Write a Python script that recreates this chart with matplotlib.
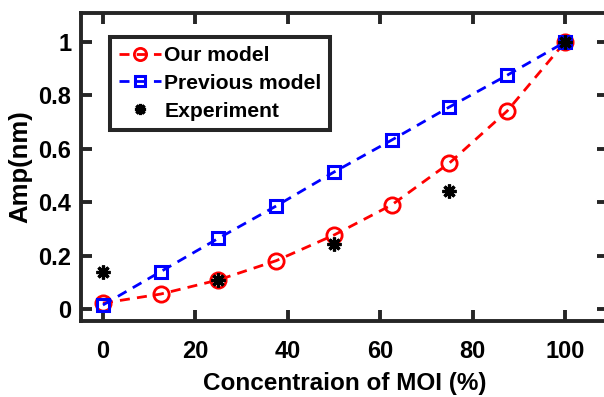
import matplotlib.pyplot as plt

plt.rcParams['font.family'] = ['Liberation Sans', 'DejaVu Sans']
plt.rcParams['font.weight'] = 'bold'

conc = [0, 12.5, 25, 37.5, 50, 62.5, 75, 87.5, 100]
our_model = [0.022, 0.056, 0.109, 0.181, 0.277, 0.39, 0.547, 0.742, 1.0]
prev_model = [0.015, 0.14, 0.265, 0.386, 0.513, 0.633, 0.757, 0.876, 1.0]
exp_conc = [0, 25, 50, 75, 100]
exp_amp = [0.14, 0.109, 0.242, 0.442, 1.0]

fig = plt.figure(figsize=(6.04, 3.97), dpi=100)
ax = fig.add_axes([0.134, 0.1914, 0.8725, 0.7758])

dash = (0, (3.6, 2.6))
ax.plot(conc, our_model, color='red', ls=dash, lw=2, marker='o', ms=11,
        mfc='none', mec='red', mew=2, label='Our model')
ax.plot(conc, prev_model, color='blue', ls=dash, lw=2, marker='s', ms=9,
        mfc='none', mec='blue', mew=2.2, label='Previous model')
ax.plot(exp_conc, exp_amp, ls='none', marker=(8, 2, 0), ms=10, color='black',
        mew=2.3, label='Experiment')

ax.set_xlim(-4.76, 109.3)
ax.set_ylim(-0.045, 1.109)
ax.set_xticks([0, 20, 40, 60, 80, 100])
ax.set_yticks([0, 0.2, 0.4, 0.6, 0.8, 1])
ax.set_yticklabels(['0', '0.2', '0.4', '0.6', '0.8', '1'])

for s in ax.spines.values():
    s.set_linewidth(2.8)
    s.set_color('#262626')
ax.tick_params(direction='in', length=8, width=2.8, top=True, right=True,
               labelsize=17, color='#262626')
ax.tick_params(axis='x', pad=14)
ax.tick_params(axis='y', pad=7)

ax.set_xlabel('Concentraion of MOI (%)', fontsize=17.5, fontweight='bold', labelpad=6)
ax.set_ylabel('Amp(nm)', fontsize=18.5, fontweight='bold', labelpad=4)

leg = ax.legend(loc='upper left', bbox_to_anchor=(0.055, 0.922), borderaxespad=0,
                fontsize=15.2, handlelength=2.0, handletextpad=0.15, borderpad=0.42,
                labelspacing=0.42, fancybox=False, framealpha=1, markerscale=0.8)
leg.get_frame().set_edgecolor('#262626')
leg.get_frame().set_linewidth(2.9)

fig.savefig('out.png', dpi=100)
